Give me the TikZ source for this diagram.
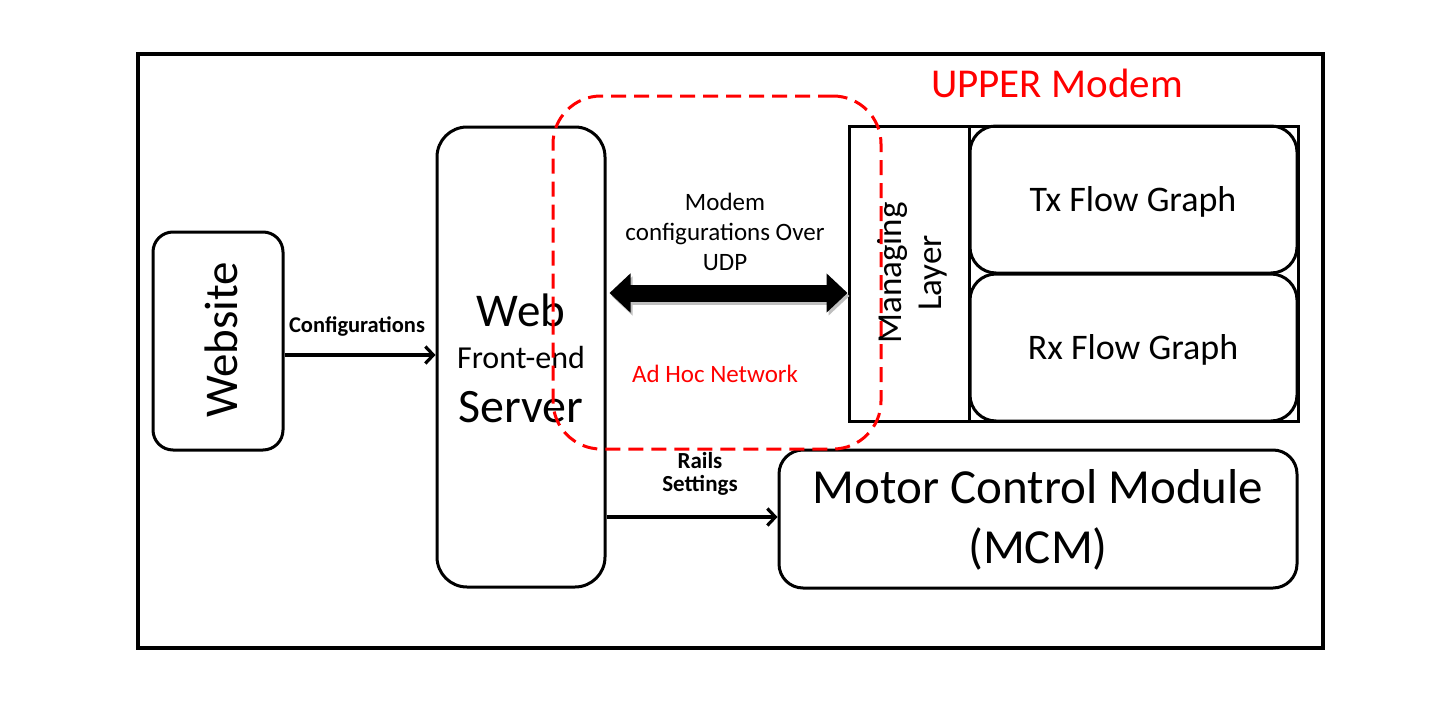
\documentclass[tikz,border=0pt]{standalone}
\usepackage{fontspec}
\setmainfont{Carlito}
\usetikzlibrary{arrows.meta,calc}
\definecolor{redx}{RGB}{255,0,0}
\tikzset{
  box/.style={draw=black,line width=3pt,rounded corners=#1,inner sep=0pt},
  box/.default=22pt,
  sqbox/.style={draw=black,line width=3pt,inner sep=0pt},
  lbl/.style={inner sep=0pt,align=center},
  arr/.style={line width=3.4pt,-{Straight Barb[length=8pt,width=17pt,line width=3.2pt]}},
  dblarr/.style={line width=17pt,{Triangle[length=21pt,width=38pt]}-{Triangle[length=21pt,width=38pt]}},
}
\begin{document}
\begin{tikzpicture}[x=1pt,y=-1pt]
\useasboundingbox (0,0) rectangle (1440,720);
% outer frame
\node[sqbox,line width=3.2pt,minimum width=1185pt,minimum height=594pt] (frame) at (730.5,351) {};
\node[lbl,text=redx,font=\fontsize{41}{44}\selectfont] (upper) at (1057,83) {UPPER Modem};
% website
\node[box=20pt,minimum width=130pt,minimum height=218pt] (website) at (218,341) {};
\node[lbl,rotate=90,font=\fontsize{47}{50}\selectfont] (websitet) at (221,340) {Website};
% web server
\node[box=30pt,minimum width=168pt,minimum height=460pt] (web) at (521,357) {};
\node[lbl,font=\fontsize{47}{50}\selectfont] (webt) at (521,310) {Web};
\node[lbl,font=\fontsize{32}{34}\selectfont] (fet) at (521,358) {Front-end};
\node[lbl,font=\fontsize{48}{50}\selectfont] (servt) at (521,407) {Server};
% modem
\node[sqbox,minimum width=449pt,minimum height=295pt] (modem) at (1073.5,273.5) {};
\node[sqbox,minimum width=120pt,minimum height=295pt] (ml) at (909,273.5) {};
\node[lbl,rotate=90,font=\fontsize{35}{40}\selectfont] (mlt) at (912,273) {Managing\\Layer};
\node[box=26pt,minimum width=327pt,minimum height=147pt] (tx) at (1133.5,199.5) {};
\node[lbl,font=\fontsize{36}{38}\selectfont] (txt) at (1133,202) {Tx Flow Graph};
\node[box=26pt,minimum width=327pt,minimum height=147pt] (rx) at (1133.5,347.5) {};
\node[lbl,font=\fontsize{36}{38}\selectfont] (rxt) at (1133,350) {Rx Flow Graph};
% MCM
\node[box=24pt,minimum width=518pt,minimum height=138pt] (mcm) at (1038,519) {};
\node[lbl,font=\fontsize{49}{60}\selectfont] (mcmt) at (1038,520) {Motor Control Module\\(MCM)};
% ad hoc
\node[draw=redx,line width=3pt,dash pattern=on 15pt off 8pt,rounded corners=48pt,minimum width=328pt,minimum height=353pt,inner sep=0pt] (adhoc) at (717,272.5) {};
\node[lbl,text=redx,font=\fontsize{25}{28}\selectfont] (adhoct) at (715,374) {Ad Hoc Network};
% labels
\node[lbl,font=\bfseries\fontsize{22.5}{24}\selectfont] (conft) at (357,326) {Configurations};
\node[lbl,font=\fontsize{25}{30}\selectfont] (udpt) at (725,232) {Modem\\configurations Over\\UDP};
\node[lbl,font=\bfseries\fontsize{23}{23}\selectfont] (railt) at (700,474) {Rails\\Settings};
% connectors
\draw[arr] ([yshift=-14pt]website.east) -- ([yshift=-14pt]website.east -| web.west);
\draw[arr] ([yshift=2pt]mcm.west -| web.east) -- ([yshift=2pt]mcm.west);
\draw[dblarr,draw=black!25,fill=black!25,shorten <=3pt,transform canvas={xshift=2pt,yshift=-3pt}] ([yshift=64pt]web.east) -- ([yshift=64pt]web.east -| ml.west);
\draw[dblarr,draw=black,fill=black,shorten <=3pt] ([yshift=64pt]web.east) -- ([yshift=64pt]web.east -| ml.west);
\end{tikzpicture}
\end{document}
